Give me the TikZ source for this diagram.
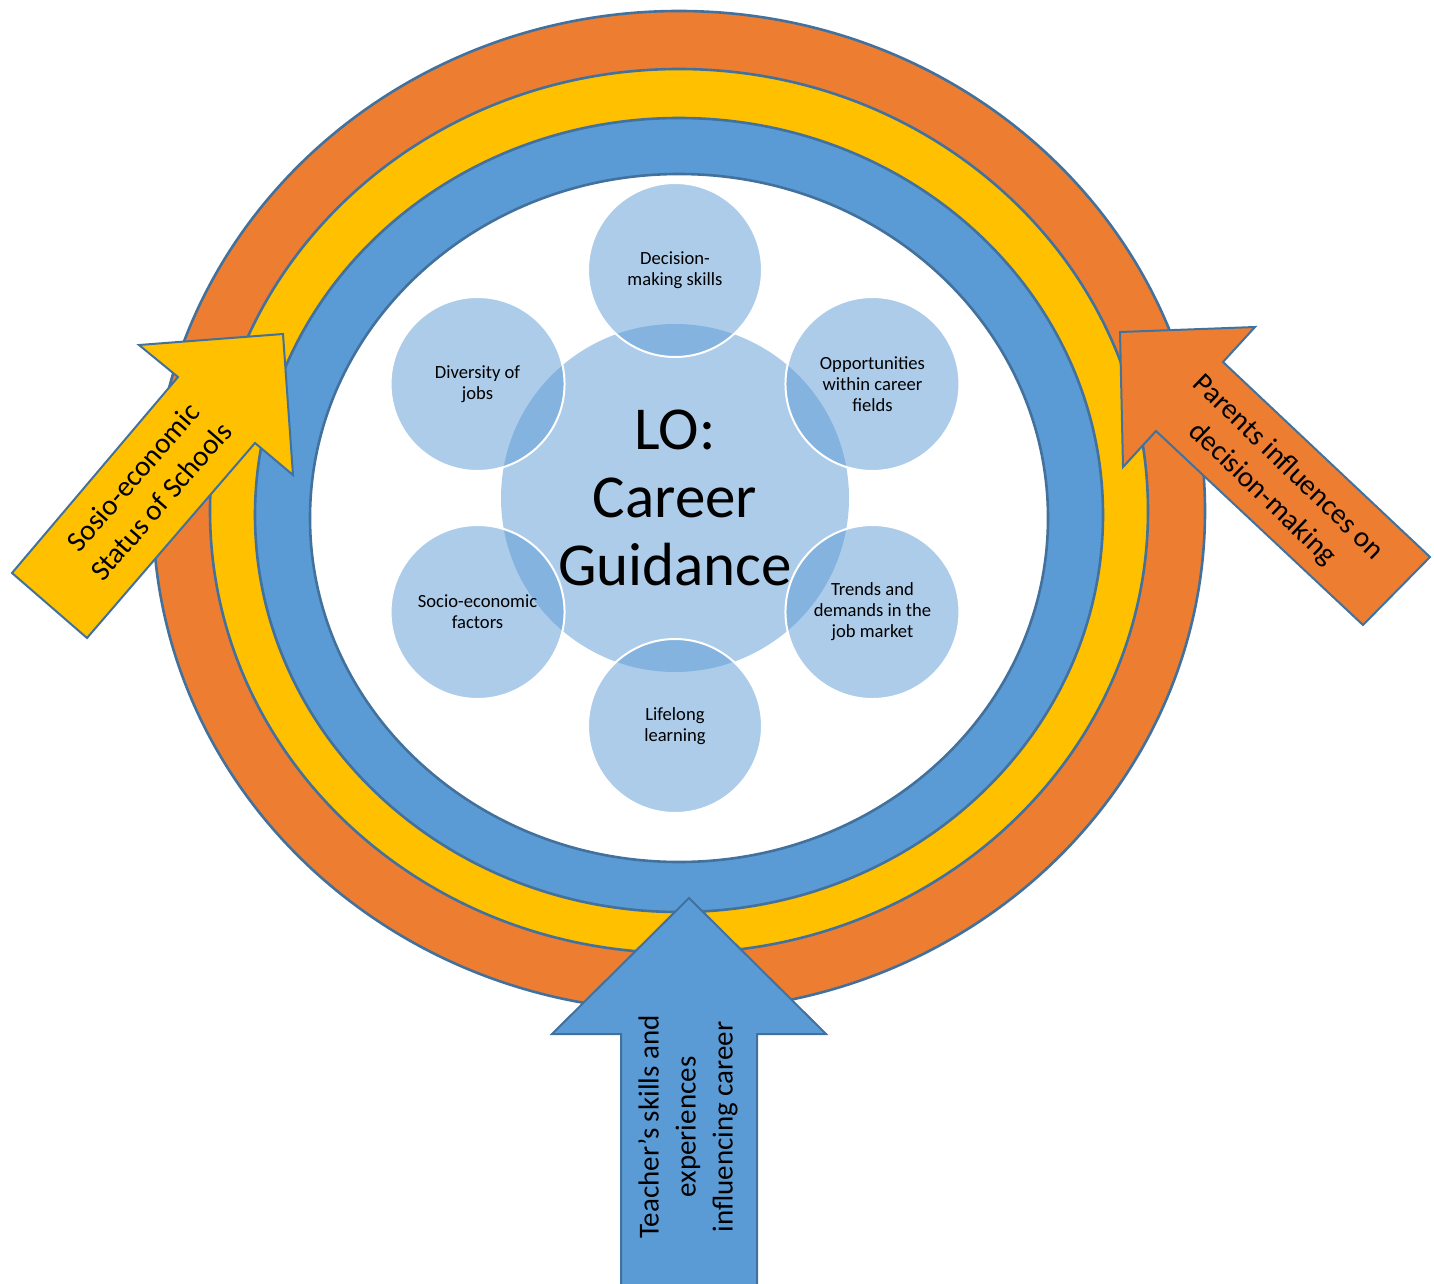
\documentclass[tikz,border=0pt]{standalone}
\usepackage{fontspec}
\setmainfont{Carlito}
\definecolor{ringorange}{HTML}{ED7D31}
\definecolor{ringyellow}{HTML}{FFC000}
\definecolor{ringblue}{HTML}{5B9BD5}
\definecolor{edgeblue}{HTML}{41719C}

\begin{document}
\begin{tikzpicture}
    [
        x=0.5pt, y=-0.5pt,
        ring/.style={draw=edgeblue, line width=1.3pt},
        bigarrow/.style={draw=edgeblue, line width=1pt, line join=miter},
        core/.style={circle, minimum size=174pt, inner sep=0pt, fill=ringblue, fill opacity=0.5, text opacity=1, align=center, font=\fontsize{30.5}{34}\selectfont},
        topic/.style={circle, minimum size=87pt, inner sep=0pt, fill=ringblue, fill opacity=0.5, text opacity=1, draw=white, line width=1pt, align=center, font=\fontsize{9.3}{10.5}\selectfont},
        arrowtext/.style={align=center, inner sep=0pt, font=\fontsize{14.5}{18.5}\selectfont},
    ]
\useasboundingbox (0,0) rectangle (1434,1284);

% rings
\draw[ring, fill=ringorange] (679,511) ellipse [x radius=526, y radius=500];
\draw[ring, fill=ringyellow] (679,511) ellipse [x radius=469, y radius=442];
\draw[ring, fill=ringblue] (679,515) ellipse [x radius=424, y radius=397];
\draw[ring, fill=white] (679,518) ellipse [x radius=369, y radius=344];

% centre and topics
\node[core] (lo) at (675,498) {LO:\\Career\\Guidance};
\foreach \ang/\name/\txt in {-90/dec/Decision-\\making skills, -30/opp/Opportunities\\within career\\fields, 30/trend/Trends and\\demands in the\\job market, 90/life/Lifelong\\learning, 150/socio/Socio-economic\\factors, 210/div/Diversity of\\jobs}
    \node[topic] (\name) at ({675+228*cos(\ang)},{498+228*sin(\ang)}) {\txt};

% influences
\draw[bigarrow, fill=ringyellow] (283,334) -- (293,475) -- (255,443) -- (87,638) -- (12,573) -- (178,377) -- (139,345) -- cycle;
\node[arrowtext, rotate=49] (schools) at (147,489) {Sosio-economic\\Status of Schools};

\draw[bigarrow, fill=ringorange] (1120,332) -- (1255,327) -- (1223,362) -- (1430,557) -- (1363,625) -- (1156,431) -- (1123,467) -- cycle;
\node[arrowtext, rotate=-44] (parents) at (1275,481) {Parents influences on\\decision-making};

\draw[bigarrow, fill=ringblue] (689,898) -- (826,1034) -- (757,1034) -- (757,1292) -- (621,1292) -- (621,1034) -- (552,1034) -- cycle;
\node[arrowtext, rotate=90] (teacher) at (688,1127) {Teacher’s skills and\\experiences\\influencing career};
\end{tikzpicture}
\end{document}
